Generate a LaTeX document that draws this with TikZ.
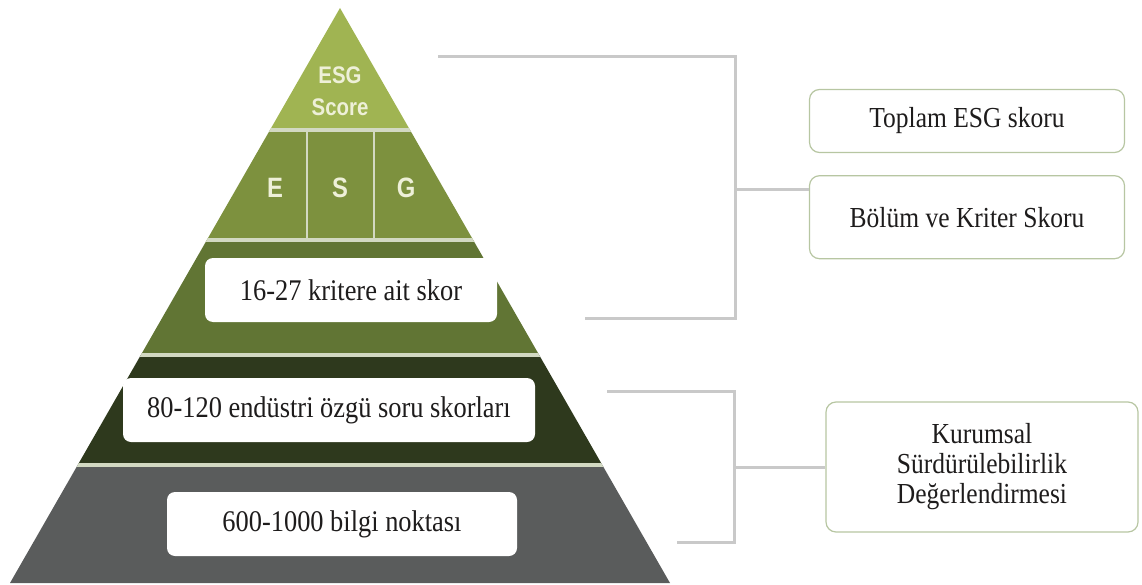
\documentclass[tikz,border=0pt]{standalone}
\usepackage{fontspec}
\setmainfont{Liberation Serif}
\newfontfamily\boxserif[FakeStretch=0.88]{Liberation Serif}
\newfontfamily\tiersans[FakeStretch=0.85]{Liberation Sans}
\usetikzlibrary{positioning}

\definecolor{tierA}{HTML}{A0B452}
\definecolor{tierB}{HTML}{7D913E}
\definecolor{tierC}{HTML}{617534}
\definecolor{tierD}{HTML}{2E391D}
\definecolor{tierE}{HTML}{5A5C5C}
\definecolor{seppale}{HTML}{D2D9C2}
\definecolor{cream}{HTML}{EEF0D8}
\definecolor{txtgray}{HTML}{1E1C1C}
\definecolor{boxgreen}{HTML}{B7C6A2}
\definecolor{brkgray}{HTML}{C9C9C9}

\begin{document}
\begin{tikzpicture}[x=1pt,y=-1pt,
  lbl/.style={rounded corners=8pt,fill=white,inner sep=0pt,minimum height=64pt,text=txtgray,font=\boxserif\fontsize{30}{34}\selectfont},
  sidebox/.style={draw=boxgreen,line width=1.2pt,rounded corners=10pt,fill=white,inner sep=0pt,minimum width=315pt,align=center,text=txtgray,font=\boxserif\fontsize{29}{30}\selectfont},
  tiertxt/.style={text=cream,align=center,inner sep=0pt},
  sep/.style={draw=seppale,line width=4pt},
  brk/.style={draw=brkgray,line width=3pt}]
  \useasboundingbox (0,0) rectangle (1142,585);

  % pyramid layers
  \begin{scope}
    \clip (340,8) -- (670,583) -- (10,583) -- cycle;
    \fill[tierA] (0,0) rectangle (700,130);
    \fill[tierB] (0,130) rectangle (700,240);
    \fill[tierC] (0,240) rectangle (700,355);
    \fill[tierD] (0,355) rectangle (700,465);
    \fill[tierE] (0,465) rectangle (700,590);
    \draw[sep] (0,130) -- (700,130);
    \draw[sep] (0,240) -- (700,240);
    \draw[sep] (0,355) -- (700,355);
    \draw[sep] (0,465) -- (700,465);
    \draw[sep,line width=2.5pt] (307,130) -- (307,240);
    \draw[sep,line width=2.5pt] (374,130) -- (374,240);
  \end{scope}

  \node[tiertxt,font=\tiersans\bfseries\fontsize{24}{32}\selectfont] (esg) at (340,91) {ESG\\Score};
  \node[tiertxt,font=\tiersans\bfseries\fontsize{28}{30}\selectfont] (e) at (275,188) {E};
  \node[tiertxt,font=\tiersans\bfseries\fontsize{28}{30}\selectfont] (s) at (340,188) {S};
  \node[tiertxt,font=\tiersans\bfseries\fontsize{28}{30}\selectfont] (g) at (406,188) {G};

  \node[lbl,minimum width=292pt] (kriter) at (351,290) {16-27 kritere ait skor};
  \node[lbl,minimum width=412pt] (endustri) at (329,410) {80-120 endüstri özgü soru skorları};
  \node[lbl,minimum width=350pt] (bilgi) at (342,524) {600-1000 bilgi noktası};

  % right side
  \node[sidebox,minimum height=63pt] (toplam) at (967,121) {Toplam ESG skoru};
  \node[sidebox,minimum height=83pt,below=22pt of toplam] (bolum) {Bölüm ve Kriter Skoru};
  \node[sidebox,minimum width=312pt,minimum height=130pt] (kurumsal) at (982,467) {Kurumsal\\Sürdürülebilirlik\\Değerlendirmesi};

  % brackets
  \coordinate (b1top) at (438,57);
  \coordinate (b1bot) at (585,318);
  \coordinate (j1) at (735,190);
  \draw[brk] (b1top) -- (b1top -| j1) -- (b1bot -| j1) -- (b1bot);
  \draw[brk] (j1) -- (j1 -| bolum.west);

  \coordinate (b2top) at (607,391);
  \coordinate (b2bot) at (677,542);
  \coordinate (j2) at (734,467);
  \draw[brk] (b2top) -- (b2top -| j2) -- (b2bot -| j2) -- (b2bot);
  \draw[brk] (j2) -- (kurumsal.west);
\end{tikzpicture}
\end{document}
